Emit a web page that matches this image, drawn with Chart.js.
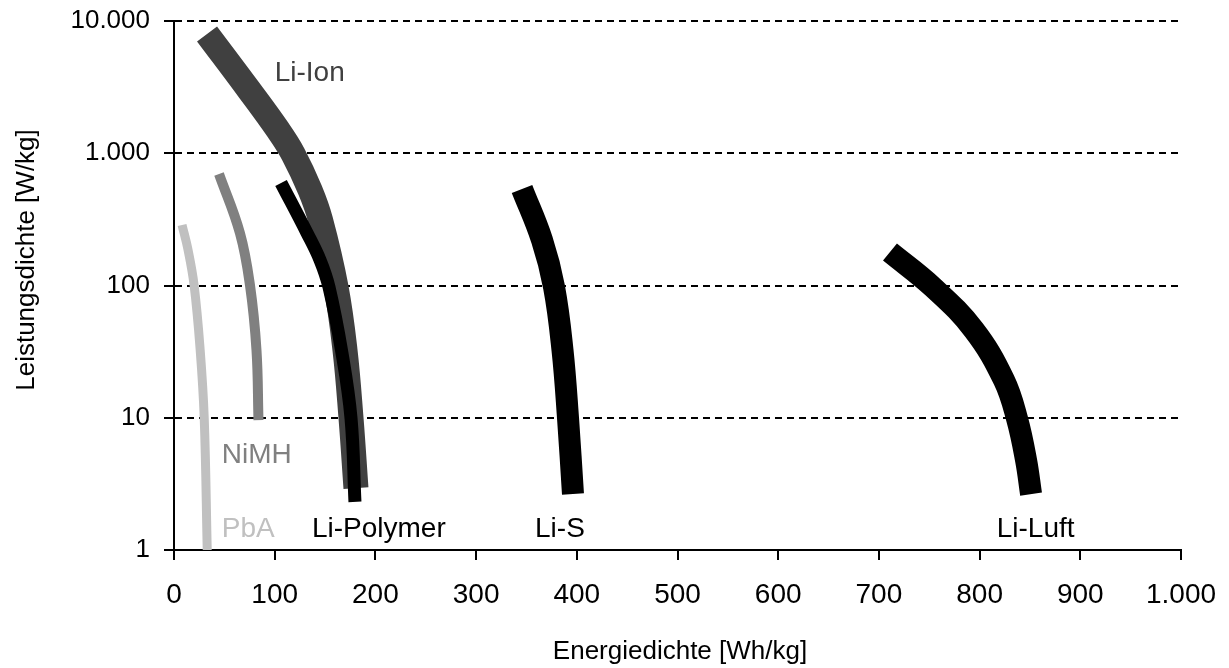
<!DOCTYPE html>
<html>
<head>
<meta charset="utf-8">
<script src="https://cdn.jsdelivr.net/npm/chart.js@4.4.1/dist/chart.umd.min.js"></script>
<style>
  html, body { margin: 0; padding: 0; background: #fff; }
  #wrap { width: 1229px; height: 668px; position: relative; }
</style>
</head>
<body>
<div id="wrap"><canvas id="chart"></canvas></div>
<script>
// Energiedichte [Wh/kg] (x) vs. Leistungsdichte [W/kg] (y)
const pbaX = [8, 14, 20, 26, 30, 33];
const pbaY = [287, 185, 100, 32.5, 10, 1];

const nimhX = [44.7, 65.5, 75.5, 81.9, 83.9];
const nimhY = [697, 249, 100, 32.5, 9.6];

const liIonX = [32.8, 74.5, 103.3, 118.2, 135.1, 145.5, 160.9, 169.8, 175.8, 180.7];
const liIonY = [7980, 3008, 1500, 990, 527, 313, 97.4, 32.5, 9.9, 2.94];

const liPolyX = [106.3, 132.1, 145, 153.9, 166.8, 175.8, 179.7];
const liPolyY = [596, 249.5, 156, 97.4, 30.9, 9.9, 2.31];

const liSX = [345.6, 365.4, 377.4, 385.8, 391.3, 396.2];
const liSY = [537, 221, 97.4, 32.5, 9.9, 2.65];

const liLuftX = [711, 753.7, 794.4, 824.2, 837.1, 846.1, 851.1];
const liLuftY = [179, 97, 46.1, 19.3, 9.9, 4.8, 2.65];

const xTicks = [0, 100, 200, 300, 400, 500, 600, 700, 800, 900, 1000];
const yTicks = [1, 10, 100, 1000, 10000];

// curve labels: text, x, y (baseline, in data units)
const labelText = ["Li-Ion", "NiMH", "PbA", "Li-Polymer", "Li-S", "Li-Luft"];
const labelX = [100, 47.5, 47.5, 137, 358.5, 817];
const labelY = [3500, 4.55, 1.25, 1.25, 1.25, 1.25];
const labelColor = ["#404040", "#808080", "#c0c0c0", "#000", "#000", "#000"];

const FONT = "'Liberation Sans', Arial, sans-serif";

function pts(xs, ys) {
  return xs.map((x, i) => ({ x, y: ys[i] }));
}

function de(v) {
  return String(v).replace(/\B(?=(\d{3})+(?!\d))/g, ".");
}

function series(xs, ys, color, width, order) {
  return {
    data: pts(xs, ys),
    borderColor: color,
    borderWidth: width,
    borderCapStyle: "butt",
    pointRadius: 0,
    fill: false,
    tension: 0.4,
    order,
  };
}

const textPlugin = {
  id: "texts",
  afterDatasetsDraw(chart) {
    const { ctx, scales } = chart;
    ctx.save();
    ctx.font = "28px " + FONT;
    ctx.textAlign = "left";
    ctx.textBaseline = "alphabetic";
    labelText.forEach((t, i) => {
      ctx.fillStyle = labelColor[i];
      ctx.fillText(t, scales.x.getPixelForValue(labelX[i]), scales.y.getPixelForValue(labelY[i]));
    });

    // axis titles
    ctx.fillStyle = "#000";
    ctx.font = "26px " + FONT;
    ctx.textAlign = "center";
    ctx.textBaseline = "middle";
    ctx.fillText("Energiedichte [Wh/kg]", 680, 652);
    ctx.translate(27, 260);
    ctx.rotate(-Math.PI / 2);
    ctx.fillText("Leistungsdichte [W/kg]", 0, 0);
    ctx.restore();
  },
};

new Chart(document.getElementById("chart"), {
  type: "line",
  data: {
    datasets: [
      series(pbaX, pbaY, "#c0c0c0", 9, 5),
      series(nimhX, nimhY, "#808080", 10, 4),
      series(liIonX, liIonY, "#404040", 25, 3),
      series(liPolyX, liPolyY, "#000000", 13, 0),
      series(liSX, liSY, "#000000", 22, 1),
      series(liLuftX, liLuftY, "#000000", 22, 1),
    ],
  },
  options: {
    animation: false,
    responsive: true,
    maintainAspectRatio: false,
    parsing: false,
    layout: { padding: { top: 21, right: 48, left: 0, bottom: 0 } },
    plugins: { legend: { display: false }, tooltip: { enabled: false } },
    scales: {
      x: {
        type: "linear",
        min: 0,
        max: 1000,
        afterBuildTicks: (s) => { s.ticks = xTicks.map((v) => ({ value: v })); },
        afterFit: (s) => { s.height = 118; s.paddingLeft = 0; s.paddingRight = 0; },
        ticks: {
          color: "#000",
          font: { family: FONT, size: 28 },
          padding: 18,
          maxRotation: 0,
          autoSkip: false,
          callback: (v) => de(v),
        },
        grid: { drawOnChartArea: false, drawTicks: true, tickLength: 10, color: "#000", lineWidth: 2 },
        border: { color: "#000", width: 2 },
      },
      y: {
        type: "logarithmic",
        min: 1,
        max: 10000,
        afterBuildTicks: (s) => { s.ticks = yTicks.map((v) => ({ value: v })); },
        afterFit: (s) => { s.width = 174; s.paddingTop = 0; s.paddingBottom = 0; },
        ticks: {
          color: "#000",
          font: { family: FONT, size: 26 },
          padding: 14,
          autoSkip: false,
          callback: (v) => de(v),
        },
        grid: {
          color: (c) => (c.tick && c.tick.value === 1 ? "rgba(0,0,0,0)" : "#000"),
          tickColor: "#000",
          lineWidth: 2,
          tickBorderDash: [],
          tickLength: 10,
        },
        border: { color: "#000", width: 2, dash: [7, 5] },
      },
    },
  },
  plugins: [textPlugin],
});
</script>
</body>
</html>
